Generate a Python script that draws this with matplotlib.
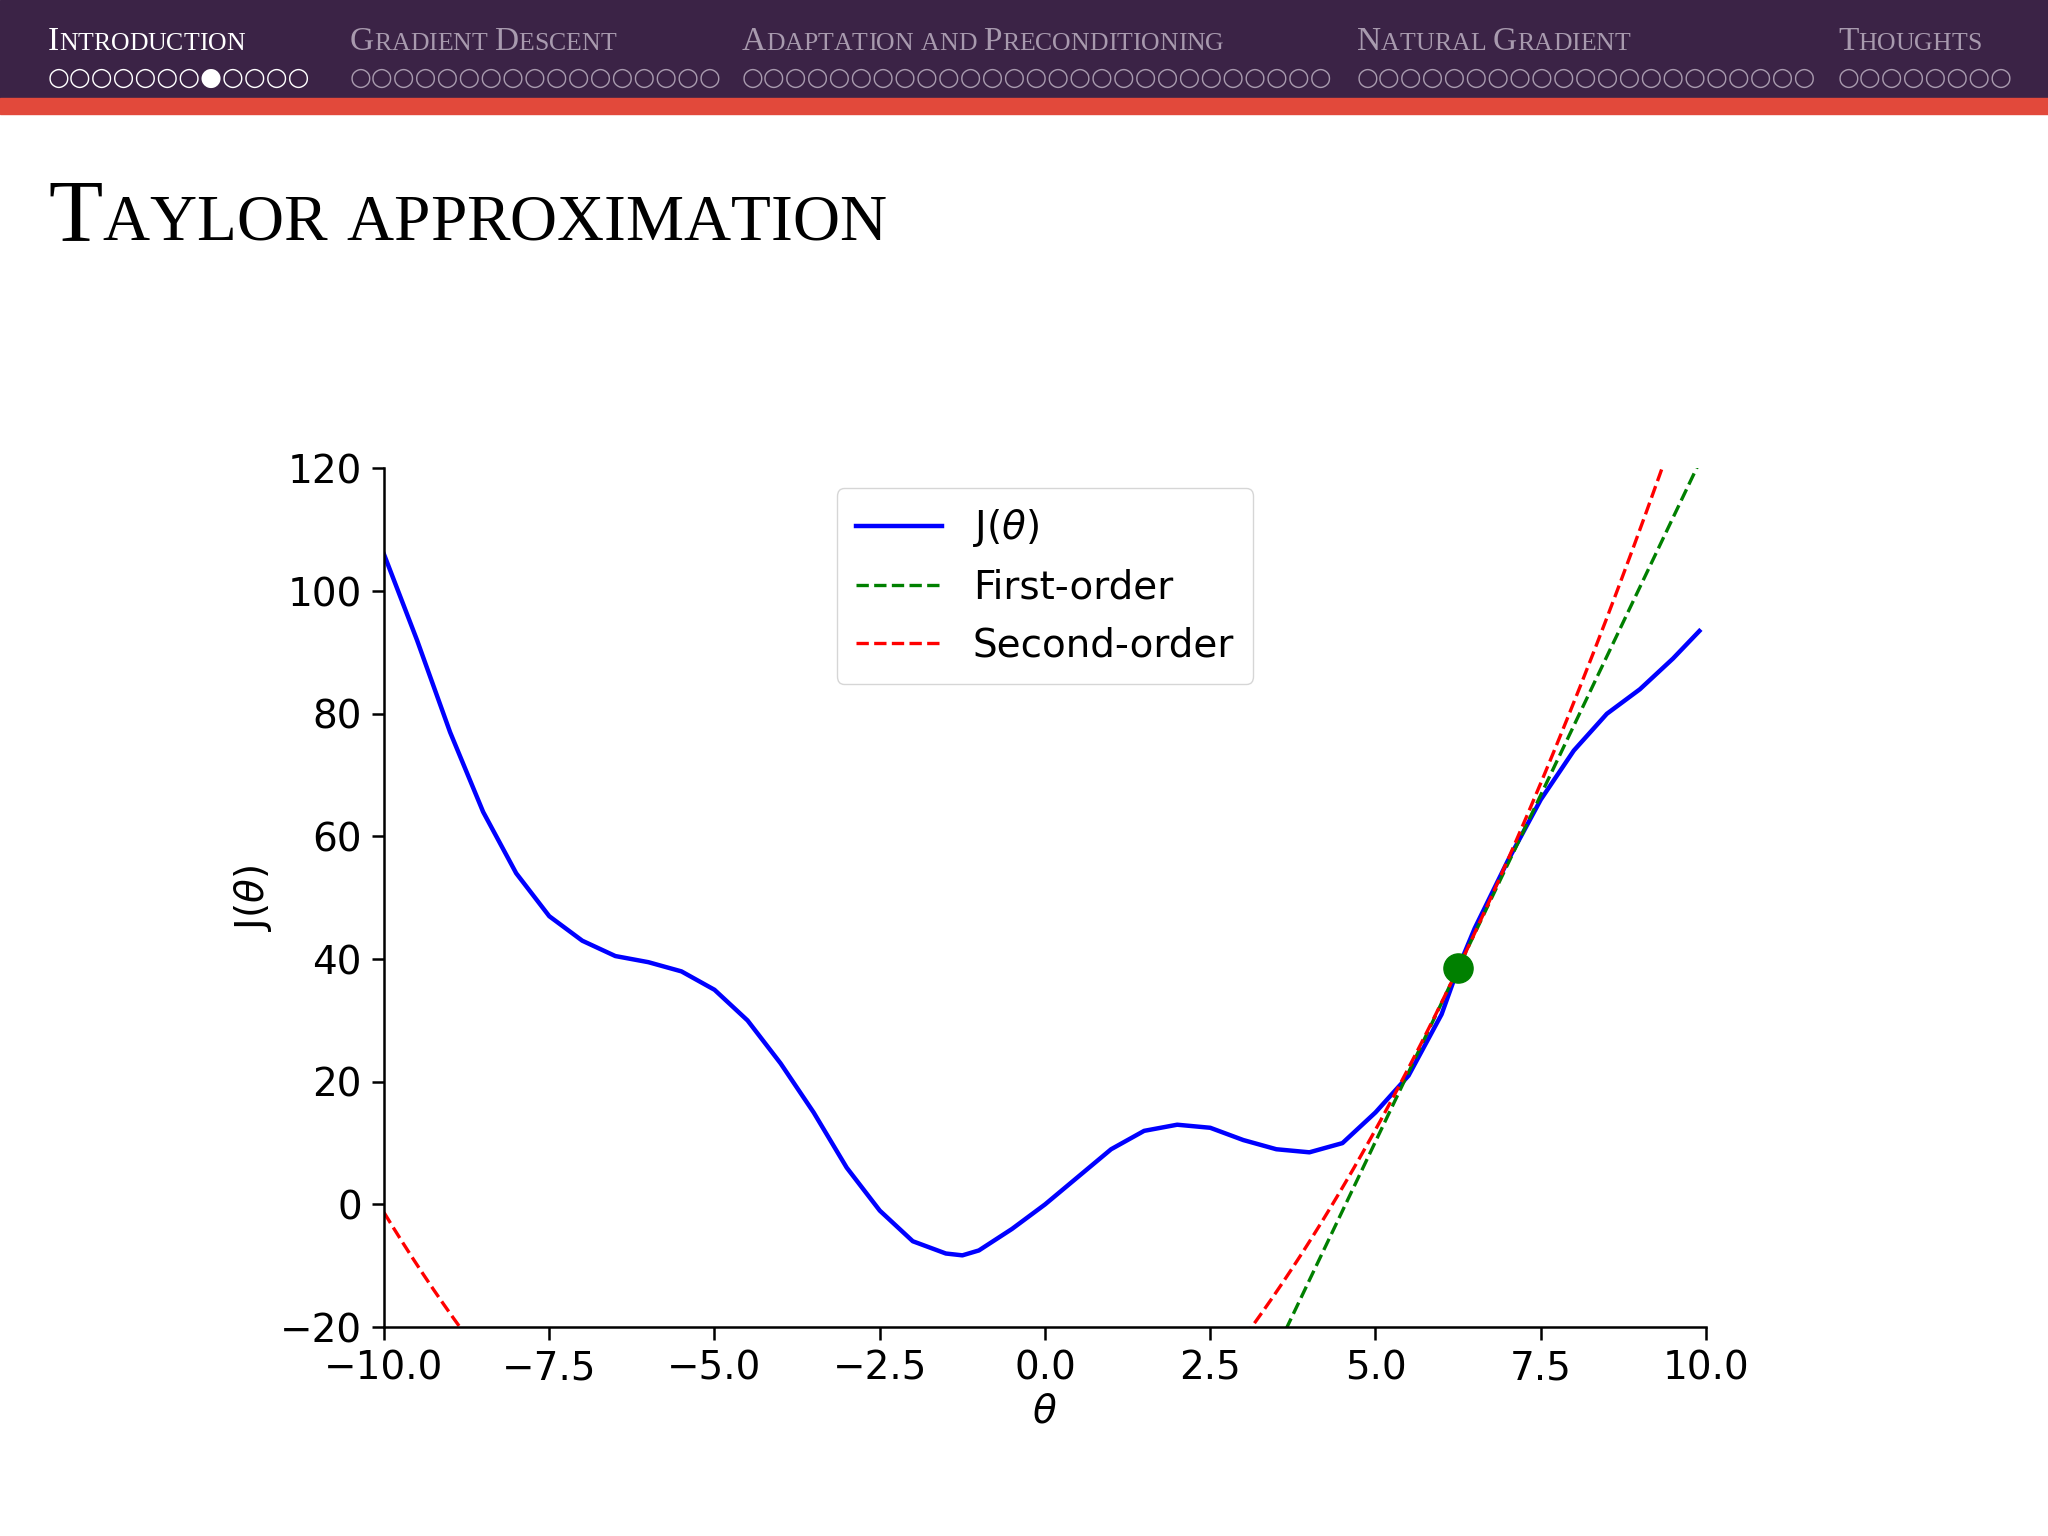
import numpy as np
import matplotlib
matplotlib.use("Agg")
import matplotlib.pyplot as plt

# values
theta = [-10, -9.5, -9, -8.5, -8, -7.5, -7, -6.5, -6, -5.5, -5, -4.5, -4, -3.5, -3,
         -2.5, -2, -1.5, -1.25, -1, -0.5, 0, 0.5, 1, 1.5, 2, 2.5, 3, 3.5, 4, 4.5,
         5, 5.5, 6, 6.25, 6.5, 7, 7.5, 8, 8.5, 9, 9.5, 9.9]
J = [106, 92, 77, 64, 54, 47, 43, 40.5, 39.5, 38, 35, 30, 23, 15, 6,
     -1, -6, -8, -8.3, -7.5, -4, 0, 4.5, 9, 12, 13, 12.5, 10.5, 9, 8.5, 10,
     15, 21, 31, 38.5, 45, 56, 66, 74, 80, 84, 89, 93.5]
theta0, J0, grad, hess = 6.25, 38.5, 22.6, 2.48

sections = ["Introduction", "Gradient Descent", "Adaptation and Preconditioning",
            "Natural Gradient", "Thoughts"]
dot_counts = [12, 17, 27, 21, 8]
current_dot = (0, 7)

W, H = 2048, 1536
fig = plt.figure(figsize=(W / 100, H / 100), dpi=100)
fig.patch.set_facecolor("white")
serif = ["Liberation Serif", "DejaVu Serif"]

# header bar
fig.add_artist(plt.Rectangle((0, 1 - 98 / H), 1, 98 / H, transform=fig.transFigure,
                             color="#3b2346", zorder=0))
fig.add_artist(plt.Rectangle((0, 1 - 114 / H), 1, 16 / H, transform=fig.transFigure,
                             color="#e2493b", zorder=0))

renderer = fig.canvas.get_renderer()


def small_caps(x, y, s, big, small, color):
    # fake small caps: capitals at big size, lowercase uppercased at small size
    for ch in s:
        size = big if (ch.isupper() or not ch.isalpha()) else small
        t = fig.text(x, y, ch.upper(), fontsize=size, color=color, family=serif,
                     transform=None, va="baseline")
        x += t.get_window_extent(renderer).width if ch != " " else big * 0.3
    return x


sec_x = [48, 350, 742, 1357, 1838]
for i, (name, n, sx) in enumerate(zip(sections, dot_counts, sec_x)):
    col = "white" if i == 0 else "#a89aae"
    small_caps(sx, H - 50, name, 24, 18.5, col)
    dots = "".join("●" if (i, k) == current_dot else "○" for k in range(n))
    fig.text(sx / W, 1 - 78 / H, dots, fontsize=18, color=col, va="center",
             family="DejaVu Sans")

small_caps(48, H - 240, "Taylor approximation", 64, 47, "black")

ax = fig.add_axes([0.1875, 0.136, 0.833 - 0.1875, 0.695 - 0.136])
ax.plot(theta, J, color="blue", lw=3.2, label=r"J($\theta$)")
xs = np.linspace(-10, 10, 400)
d = xs - theta0
ax.plot(xs, J0 + grad * d, "--", color="green", lw=2.4, label="First-order")
ax.plot(xs, J0 + grad * d + 0.5 * hess * d ** 2, "--", color="red", lw=2.4,
        label="Second-order")
ax.plot([theta0], [J0], "o", color="green", markersize=21, zorder=5)
ax.set_xlim(-10, 10)
ax.set_ylim(-20, 120)
ax.set_xticks(np.arange(-10, 10.1, 2.5))
ax.spines["top"].set_visible(False)
ax.spines["right"].set_visible(False)
for s in ("left", "bottom"):
    ax.spines[s].set_linewidth(1.8)
ax.tick_params(labelsize=28, length=9, width=1.8, pad=7)
ax.set_xlabel(r"$\theta$", fontsize=28)
ax.set_ylabel(r"J($\theta$)", fontsize=28)
ax.legend(fontsize=28, loc="upper center", bbox_to_anchor=(0.5, 1.0),
          handlelength=2.2, borderpad=0.5)

fig.savefig("out.png", dpi=100)
